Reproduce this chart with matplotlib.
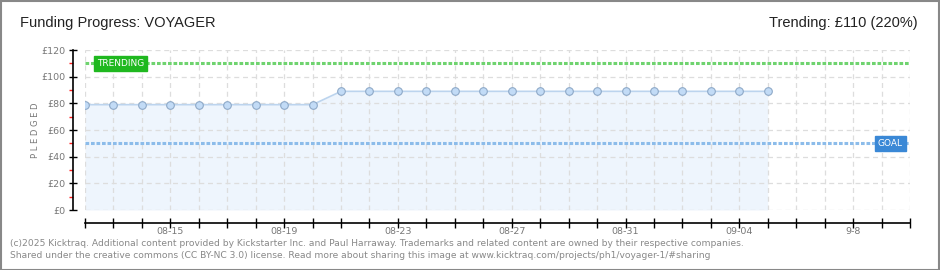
import matplotlib
matplotlib.use("Agg")
import matplotlib.pyplot as plt
import matplotlib.dates as mdates
import numpy as np
from matplotlib.patches import Rectangle

# pledged totals per day
dates = np.arange("2025-08-12", "2025-09-06", dtype="datetime64[D]")
pledged = [79, 79, 79, 79, 79, 79, 79, 79, 79,
           89, 89, 89, 89, 89, 89, 89, 89, 89, 89, 89, 89, 89, 89, 89, 89]
goal = 50
trending = 110
x_start, x_end = "2025-08-12", "2025-09-10"
label_days = ["2025-08-15", "2025-08-19", "2025-08-23", "2025-08-27",
              "2025-08-31", "2025-09-04", "2025-09-08"]
label_text = ["08-15", "08-19", "08-23", "08-27", "08-31", "09-04", "9-8"]
y_ticks = [0, 20, 40, 60, 80, 100, 120]

title = "Funding Progress: VOYAGER"
trend_text = "Trending: £110 (220%)"
footer = ["(c)2025 Kicktraq. Additional content provided by Kickstarter Inc. and Paul Harraway. "
          "Trademarks and related content are owned by their respective companies.",
          "Shared under the creative commons (CC BY-NC 3.0) license. Read more about sharing this "
          "image at www.kicktraq.com/projects/ph1/voyager-1/#sharing"]

W, H = 940, 270
fig = plt.figure(figsize=(W / 100, H / 100), dpi=100)
fig.patch.set_facecolor("white")
fig.patches.append(Rectangle((0.5 / W, 0.5 / H), 1 - 1.5 / W, 1 - 1.5 / H, transform=fig.transFigure,
                             fill=False, edgecolor="#888888", lw=1.5))

ax = fig.add_axes([85 / W, (H - 210) / H, 825 / W, 160 / H])
ax.set_facecolor("none")

x = mdates.date2num(dates.astype("datetime64[s]").astype(object))
x0 = mdates.date2num(np.datetime64(x_start).astype(object))
x1 = mdates.date2num(np.datetime64(x_end).astype(object))

ax.fill_between(x, pledged, 0, color="#eef5fd", lw=0, zorder=1)
ax.plot(x, pledged, color="#bcd4ee", lw=1.2, zorder=3)
ax.plot(x, pledged, "o", ms=5.5, mfc="#c2dbf6", mec="#8ea9c8", mew=0.8, zorder=4)

ax.axhline(trending, color="#6fd36f", lw=2.2, ls=(0, (1.2, 0.6)), zorder=2)
ax.axhline(goal, color="#8cbcea", lw=2.2, ls=(0, (1.2, 0.6)), zorder=2)

ax.set_xlim(x0, x1)
ax.set_ylim(0, 120)

days = np.arange(x0, x1 + 1)
ax.set_xticks(days)
ax.set_xticklabels([""] * len(days))
for d, t in zip(label_days, label_text):
    xd = mdates.date2num(np.datetime64(d).astype(object))
    ax.text(xd, -0.105, t, transform=ax.get_xaxis_transform(), ha="center", va="top",
            fontsize=6.8, color="#777777")

ax.set_yticks(y_ticks)
ax.set_yticklabels([f"£{v}" for v in y_ticks])
ax.set_yticks(np.arange(10, 120, 20), minor=True)
ax.tick_params(axis="y", which="major", direction="inout", length=6, width=1, color="black",
               pad=2, labelsize=6.8, labelcolor="#777777")
ax.tick_params(axis="y", which="minor", direction="out", length=3, width=1, color="#ff2020")
ax.tick_params(axis="x", which="major", direction="inout", length=7, width=1, color="black")

ax.grid(True, which="major", color="#dddddd", ls=(0, (4, 3)), lw=0.9, zorder=0)

for s in ["top", "right"]:
    ax.spines[s].set_visible(False)
ax.spines["left"].set_position(("outward", 9))
ax.spines["bottom"].set_position(("outward", 9))
ax.spines["left"].set_linewidth(1.2)
ax.spines["bottom"].set_linewidth(1.2)

ax.text(-50 / 825, 0.5, "P L E D G E D", transform=ax.transAxes, rotation=90,
        ha="center", va="center", fontsize=6, color="#777777")

# markers for trending and goal
ax.text(8 / 825 + 0.005, trending, "TRENDING", transform=ax.get_yaxis_transform(),
        ha="left", va="center", fontsize=6.5, color="white", zorder=6,
        bbox=dict(boxstyle="square,pad=0.3", fc="#1fb81f", ec="#1fb81f"))
ax.text(1 - 7 / 825, goal, "GOAL", transform=ax.get_yaxis_transform(),
        ha="right", va="center", fontsize=6.5, color="white", zorder=6,
        bbox=dict(boxstyle="square,pad=0.3", fc="#3a88d6", ec="#3a88d6"))

fig.text(20 / W, 1 - 23 / H, title, fontsize=10.5, color="#222222", va="center", ha="left",
         family=["Liberation Sans", "DejaVu Sans"])
fig.text(918 / W, 1 - 23 / H, trend_text, fontsize=10.5, color="#222222", va="center", ha="right",
         family=["Liberation Sans", "DejaVu Sans"])
fig.text(10 / W, 1 - 243 / H, footer[0], fontsize=6.6, color="#888888", va="center", ha="left")
fig.text(10 / W, 1 - 256 / H, footer[1], fontsize=6.6, color="#888888", va="center", ha="left")

fig.savefig("out.png", dpi=100, facecolor="white")
